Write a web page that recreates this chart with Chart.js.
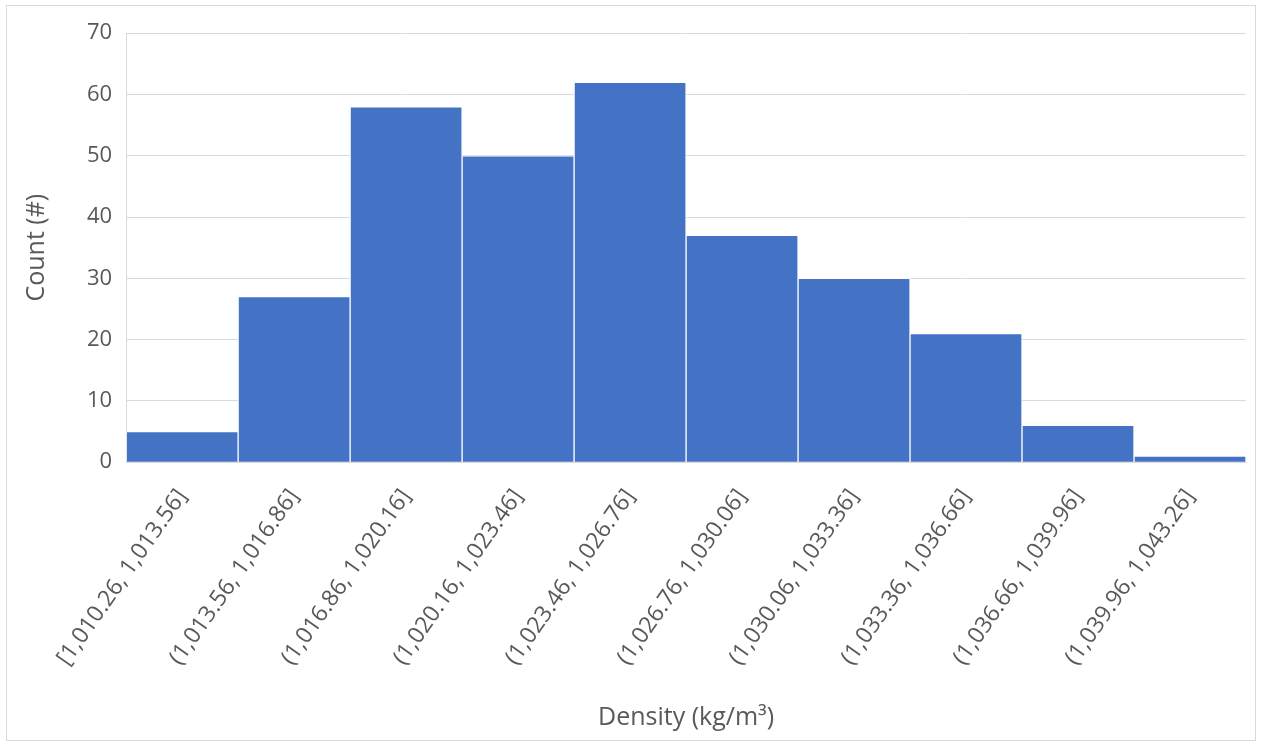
<!DOCTYPE html>
<html>
<head>
<meta charset="utf-8">
<script src="https://cdn.jsdelivr.net/npm/chart.js@4/dist/chart.umd.min.js"></script>
<style>
  html, body { margin: 0; padding: 0; background: #fff; }
  #wrap { position: absolute; left: 6px; top: 5px; width: 1250px; height: 736px; border: 1px solid #d9d9d9; box-sizing: border-box; }
</style>
</head>
<body>
<div id="wrap"><canvas id="chart"></canvas></div>
<script>
var bins = ["[1,010.26, 1,013.56]", "(1,013.56, 1,016.86]", "(1,016.86, 1,020.16]", "(1,020.16, 1,023.46]",
    "(1,023.46, 1,026.76]", "(1,026.76, 1,030.06]", "(1,030.06, 1,033.36]", "(1,033.36, 1,036.66]",
    "(1,036.66, 1,039.96]", "(1,039.96, 1,043.26]"];
var counts = [5, 27, 58, 50, 62, 37, 30, 21, 6, 1];
var yTicks = [0, 10, 20, 30, 40, 50, 60, 70];

var ctx = document.getElementById("chart");
var myChart = new Chart(ctx, {
    type: 'bar',
    data: {
        labels: bins,
        datasets: [{
            label: 'Count',
            data: counts,
            backgroundColor: '#4472C4',
            borderColor: '#ffffff',
            borderWidth: 1,
            categoryPercentage: 1.0,
            barPercentage: 1.0
        }]
    },
    options: {
        responsive: true,
        maintainAspectRatio: false,
        animation: false,
        layout: { padding: { left: 15, right: 9, top: 20, bottom: 5 } },
        plugins: { legend: { display: false }, tooltip: { enabled: false } },
        scales: {
            x: {
                grid: { display: false },
                border: { color: '#d9d9d9', width: 1 },
                ticks: {
                    color: '#595959',
                    font: { family: 'Open Sans', size: 23 },
                    minRotation: 55,
                    maxRotation: 55,
                    padding: 14
                },
                title: {
                    display: true,
                    text: 'Density (kg/m³)',
                    color: '#595959',
                    font: { family: 'Open Sans', size: 25 },
                    padding: { top: 18, bottom: 2 }
                }
            },
            y: {
                min: 0,
                max: 70,
                afterBuildTicks: function (axis) {
                    axis.ticks = yTicks.map(function (v) { return { value: v }; });
                },
                grid: { color: '#d9d9d9', drawTicks: false },
                border: { color: '#d9d9d9', width: 1 },
                ticks: {
                    color: '#595959',
                    font: { family: 'Open Sans', size: 22 },
                    padding: 14
                },
                title: {
                    display: true,
                    text: 'Count (#)',
                    color: '#595959',
                    font: { family: 'Open Sans', size: 25 },
                    padding: { top: 0, bottom: 21 }
                }
            }
        }
    }
});
</script>
</body>
</html>
